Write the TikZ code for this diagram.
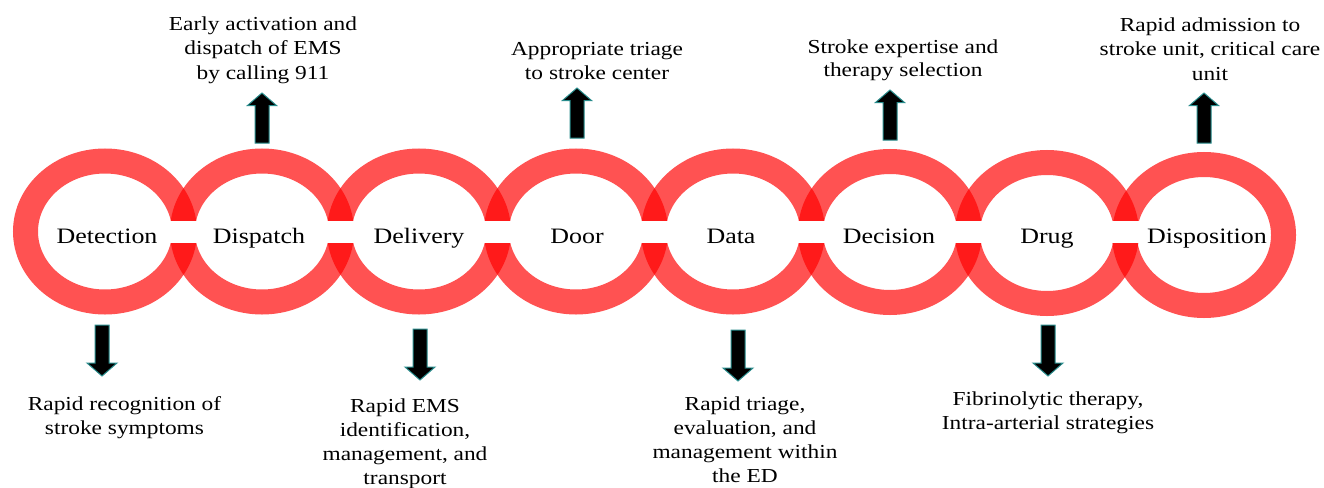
\documentclass[tikz,border=0pt]{standalone}
\usepackage{fontspec}
\setmainfont[FakeStretch=1.18]{Liberation Serif}
\definecolor{arrowedge}{RGB}{40,140,140}
\begin{document}
\begin{tikzpicture}[x=1pt,y=-1pt,
  ring/.style={draw=red, draw opacity=0.68, line width=25pt},
  ringlabel/.style={anchor=base, inner sep=0pt, font=\fontsize{22}{26}\selectfont},
  note/.style={anchor=base, inner sep=0pt, align=center, font=\fontsize{19.8}{24}\selectfont},
  arrowbody/.style={fill=black, draw=arrowedge, line width=1pt, line join=miter},
  uparrow/.pic={\filldraw[arrowbody] (0,0) -- (14.5,12.5) -- (7,12.5) -- (7,50) -- (-7,50) -- (-7,12.5) -- (-14.5,12.5) -- cycle;},
  downarrow/.pic={\filldraw[arrowbody] (0,0) -- (15,-13) -- (7,-13) -- (7,-51) -- (-7,-51) -- (-7,-13) -- (-15,-13) -- cycle;}
]
\useasboundingbox (0,0) rectangle (1324,487);
\fill[white] (0,0) rectangle (1324,487);

% chain of eight rings
\foreach \i/\cy in {0/231.5,1/231.5,2/231.5,3/231.5,4/231.5,5/232,6/233,7/235}
  \draw[ring] ({105+157*\i},\cy) ellipse [x radius=79.5, y radius=70.5];

% white cuts through the links between neighbouring rings
\foreach \i in {0,...,6}
  \fill[white] ({183.5+157*\i-15},220.5) rectangle ({183.5+157*\i+15},243);

% ring labels
\node[ringlabel] (detection)   at (107,243)  {Detection};
\node[ringlabel] (dispatch)    at (259,243)  {Dispatch};
\node[ringlabel] (delivery)    at (419,243)  {Delivery};
\node[ringlabel] (door)        at (577,243)  {Door};
\node[ringlabel] (data)        at (731,243)  {Data};
\node[ringlabel] (decision)    at (889,243)  {Decision};
\node[ringlabel] (drug)        at (1047,243) {Drug};
\node[ringlabel] (disposition) at (1207,243) {Disposition};

% arrows above the rings
\pic at (262,93)  {uparrow};
\pic at (577,88)  {uparrow};
\pic at (890,90)  {uparrow};
\pic at (1204,93) {uparrow};

% arrows below the rings
\pic at (102,376)  {downarrow};
\pic at (420,380)  {downarrow};
\pic at (738,381)  {downarrow};
\pic at (1048,376) {downarrow};

% notes above (anchored at the baseline of their last line)
\node[note] (ndispatch)    at (263,79)  {Early activation and\\dispatch of EMS\\by calling 911};
\node[note] (ndoor)        at (597,79)  {Appropriate triage\\to stroke center};
\node[note] (ndecision)    at (903,77)  {Stroke expertise and\\therapy selection};
\node[note] (ndisposition) at (1210,80) {Rapid admission to\\stroke unit, critical care\\unit};

% notes below
\node[note] (ndetection) at (124.5,434) {Rapid recognition of\\stroke symptoms};
\node[note] (ndelivery)  at (405,484)   {Rapid EMS\\identification,\\management, and\\transport};
\node[note] (ndata)      at (745,482)   {Rapid triage,\\evaluation, and\\management within\\the ED};
\node[note] (ndrug)      at (1048,429)  {Fibrinolytic therapy,\\Intra-arterial strategies};
\end{tikzpicture}
\end{document}
